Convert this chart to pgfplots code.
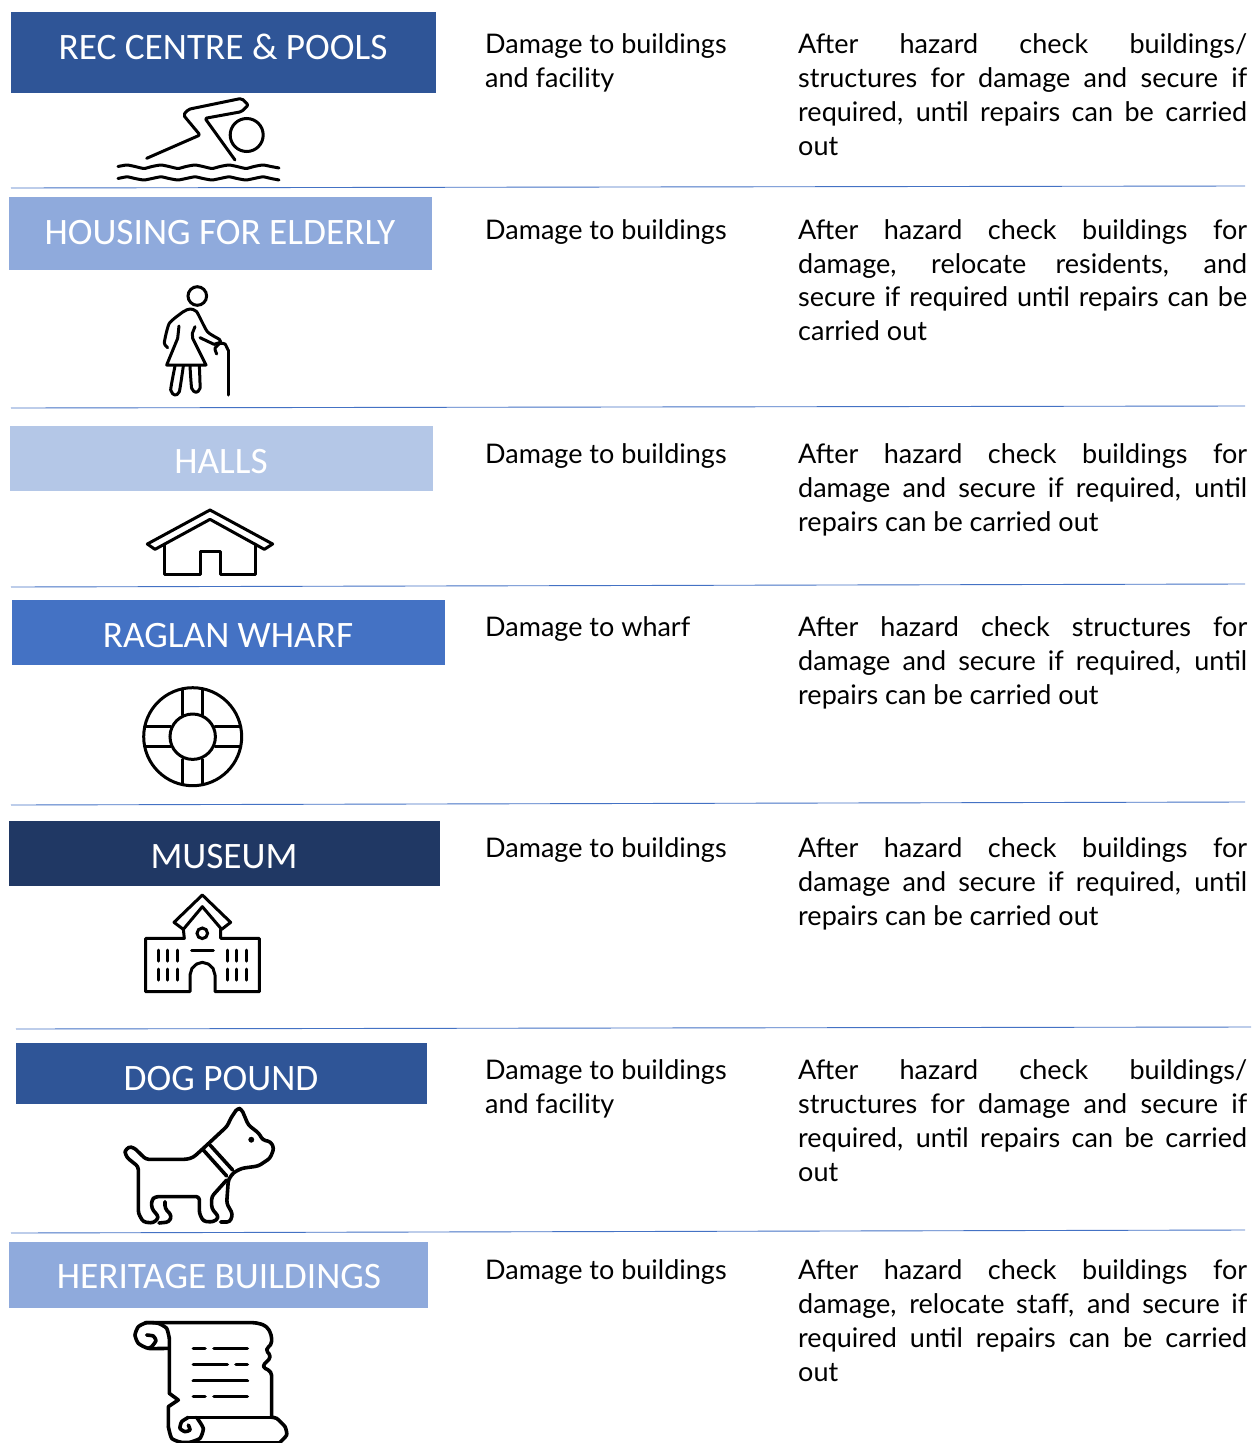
\documentclass[border=0pt]{standalone}
\usepackage{pgfplots}
\usepackage{fontspec}
\pgfplotsset{compat=1.18}
\setmainfont{Lato}
\newfontfamily\hd{Carlito}
\definecolor{sep}{HTML}{4472C4}
\definecolor{bA}{HTML}{2F5597}
\definecolor{bB}{HTML}{8FAADC}
\definecolor{bC}{HTML}{B4C7E7}
\definecolor{bD}{HTML}{4472C4}
\definecolor{bE}{HTML}{203864}
\pgfplotsset{
  zo/.style 2 args={x filter/.expression={x/3+#1},y filter/.expression={y/3+#2}},
  ic/.style={black,line width=3pt,line join=round,line cap=round,no marks},
  tk/.style={ic,line width=3.6pt},
  sm/.style={ic,smooth,tension=0.35},
  smt/.style={tk,smooth,tension=0.35},
  ring/.style={only marks,mark=o,mark size=#1,mark options={draw=black,line width=3pt}},
  sepl/.style={sep,line width=0.9pt,no marks},
}
\newcommand{\hdr}[4]{% x y size text
  \node[anchor=base,inner sep=0pt,text=white] at (axis cs:#1,#2) {\hd\fontsize{#3pt}{#3pt}\selectfont #4};}
\newcommand{\cB}[2]{\node[anchor=base west,inner sep=0pt] at (axis cs:485,#1+9) {\fontsize{27pt}{27pt}\selectfont #2};}
\newcommand{\cC}[2]{\node[anchor=base west,inner sep=0pt] at (axis cs:798,#1+9) {\fontsize{27pt}{27pt}\selectfont\makebox[449pt][s]{#2}};}
\newcommand{\cL}[2]{\node[anchor=base west,inner sep=0pt] at (axis cs:798,#1+9) {\fontsize{27pt}{27pt}\selectfont #2};}
\begin{document}
\begin{tikzpicture}
\begin{axis}[scale only axis,width=1252pt,height=1443pt,xmin=0,xmax=1252,ymin=0,ymax=1443,y dir=reverse,hide axis]
\addplot[draw=none,no marks] coordinates {(0,0) (1252,1443)};
% header boxes
\addplot[fill=bA,draw=none] coordinates {(11,12) (436,12) (436,93) (11,93)} --cycle;
\addplot[fill=bB,draw=none] coordinates {(9,197) (432,197) (432,270) (9,270)} --cycle;
\addplot[fill=bC,draw=none] coordinates {(10,426) (433,426) (433,491) (10,491)} --cycle;
\addplot[fill=bD,draw=none] coordinates {(12,600) (445,600) (445,665) (12,665)} --cycle;
\addplot[fill=bE,draw=none] coordinates {(9,821) (440,821) (440,886) (9,886)} --cycle;
\addplot[fill=bA,draw=none] coordinates {(16,1043) (427,1043) (427,1104) (16,1104)} --cycle;
\addplot[fill=bB,draw=none] coordinates {(9,1242) (428,1242) (428,1308) (9,1308)} --cycle;
% separators
\addplot[sepl] coordinates {(11,188) (1245,186)};
\addplot[sepl] coordinates {(11,408) (1245,406)};
\addplot[sepl] coordinates {(11,587) (1245,584)};
\addplot[sepl] coordinates {(11,805) (1245,802)};
\addplot[sepl] coordinates {(16,1029) (1251,1027)};
\addplot[sepl] coordinates {(11,1233) (1245,1230)};
% swimmer
\addplot[ic,rounded corners=2pt,zo={100}{90}] coordinates {(140,205) (300,135) (250,75) (265,58) (425,25) (445,45) (425,65) (315,85) (405,210)};
\addplot[ring=16.5] coordinates {(246.7,135)};
\addplot[sm] coordinates {(118,166.5) (127,165) (135,166.5) (144,168.5) (152,166.5) (161,165) (169,166.5) (178,168.5) (186,166.5) (195,165) (203,166.5) (212,168.5) (220,166.5) (229,165) (237,166.5) (246,168.5) (254,166.5) (263,165) (271,166.5) (279,168)};
\addplot[sm] coordinates {(118,178.5) (127,176.8) (135,178.5) (144,180) (152,178.5) (161,176.8) (169,178.5) (178,180) (186,178.5) (195,176.8) (203,178.5) (212,180) (220,178.5) (229,176.8) (237,178.5) (246,180) (254,178.5) (263,176.8) (271,178.5) (279,180)};
% elderly
\addplot[ring=9.3] coordinates {(197.3,296)};
\addplot[sm,zo={130}{280}] coordinates {(113,203) (103,188) (118,130) (160,95) (180,87) (200,95) (232,155) (268,178) (272,188)};
\addplot[ic,zo={130}{280}] coordinates {(210,173) (252,193) (268,188)};
\addplot[sm,zo={130}{280}] coordinates {(260,222) (255,205) (270,190) (285,192) (294,210)};
\addplot[ic,zo={130}{280}] coordinates {(294,210) (294,345)};
\addplot[ic,zo={130}{280}] coordinates {(147,138) (143,175) (110,255) (228,255) (188,175) (187,160) (195,140)};
\addplot[sm,zo={130}{280}] coordinates {(135,258) (122,330) (135,345) (148,335) (160,258)};
\addplot[sm,zo={130}{280}] coordinates {(180,258) (185,325) (198,337) (210,325) (208,258)};
% house
\addplot[ic,zo={130}{500}] coordinates {(52,132) (240,30) (428,132) (403,148) (240,58) (75,148)} --cycle;
\addplot[ic,zo={130}{500}] coordinates {(103,133) (103,222) (212,222) (212,155) (270,155) (270,222) (377,222) (377,133)};
% lifebuoy
\addplot[ring=49] coordinates {(192.7,736.7)};
\addplot[ring=22.7] coordinates {(192.7,736.7)};
\addplot[ic,zo={130}{680}] coordinates {(158,30) (158,105)};
\addplot[ic,zo={130}{680}] coordinates {(218,30) (218,105)};
\addplot[ic,zo={130}{680}] coordinates {(158,238) (158,312)};
\addplot[ic,zo={130}{680}] coordinates {(218,238) (218,312)};
\addplot[ic,zo={130}{680}] coordinates {(45,140) (122,140)};
\addplot[ic,zo={130}{680}] coordinates {(45,200) (122,200)};
\addplot[ic,zo={130}{680}] coordinates {(255,140) (332,140)};
\addplot[ic,zo={130}{680}] coordinates {(255,200) (332,200)};
% museum
\addplot[ic,zo={130}{890}] coordinates {(132,97) (217,15) (302,97) (275,118) (217,50) (160,118)} --cycle;
\addplot[ic,zo={130}{890}] coordinates {(160,118) (163,145) (47,145) (47,305) (180,305) (180,255) (186,235) (200,222) (217,217) (235,222) (249,235) (255,255) (255,305) (388,305) (388,145) (272,145) (272,118)};
\addplot[ring=5.3] coordinates {(202.3,933.3)};
\addplot[ic,zo={130}{890}] coordinates {(185,182) (250,182)};
\addplot[ic,zo={130}{890}] coordinates {(85,180) (85,213)};
\addplot[ic,zo={130}{890}] coordinates {(113,180) (113,213)};
\addplot[ic,zo={130}{890}] coordinates {(142,180) (142,213)};
\addplot[ic,zo={130}{890}] coordinates {(292,180) (292,213)};
\addplot[ic,zo={130}{890}] coordinates {(320,180) (320,213)};
\addplot[ic,zo={130}{890}] coordinates {(348,180) (348,213)};
\addplot[ic,zo={130}{890}] coordinates {(85,237) (85,270)};
\addplot[ic,zo={130}{890}] coordinates {(113,237) (113,270)};
\addplot[ic,zo={130}{890}] coordinates {(142,237) (142,270)};
\addplot[ic,zo={130}{890}] coordinates {(292,237) (292,270)};
\addplot[ic,zo={130}{890}] coordinates {(320,237) (320,270)};
\addplot[ic,zo={130}{890}] coordinates {(348,237) (348,270)};
% dog
\addplot[tk,rounded corners=3pt,zo={110}{1100}] coordinates {(45,155) (55,140) (72,143) (108,178) (230,178) (250,172) (280,145) (352,78) (362,55) (383,24) (395,28) (415,75) (447,100) (458,120) (482,125) (492,145) (480,175) (445,198) (395,205) (370,218) (355,240) (350,310) (368,342) (360,366) (332,366)};
\addplot[tk,rounded corners=3pt,zo={110}{1100}] coordinates {(45,155) (50,172) (85,200) (85,340) (100,366) (130,369) (147,352) (125,325) (125,300) (135,290) (268,290) (268,340) (280,364) (310,366) (327,352) (305,325) (305,290) (350,240)};
\addplot[tk,rounded corners=3pt,zo={110}{1100}] coordinates {(165,305) (165,325) (185,347) (177,366) (147,369)};
\addplot[tk,zo={110}{1100}] coordinates {(280,150) (350,228)};
\addplot[tk,zo={110}{1100}] coordinates {(300,135) (368,210)};
\addplot[only marks,mark=*,mark size=2.7,mark options={draw=black,fill=black}] coordinates {(251.3,1139.7)};
% scroll
\addplot[tk,rounded corners=4pt,zo={120}{1310}] coordinates {(75,38) (410,38) (440,48) (455,75) (455,105) (435,118) (455,140) (425,170) (455,185) (455,320)};
\addplot[smt,zo={120}{1310}] coordinates {(145,115) (85,115) (55,100) (45,75) (55,50) (80,38) (115,40) (140,55) (148,85)};
\addplot[tk,zo={120}{1310}] coordinates {(148,85) (148,250) (175,270) (145,290) (145,350)};
\addplot[smt,zo={120}{1310}] coordinates {(80,75) (100,78) (108,92) (95,110) (85,115)};
\addplot[smt,zo={120}{1310}] coordinates {(145,350) (155,385) (185,397) (240,397)};
\addplot[tk,zo={120}{1310}] coordinates {(240,397) (480,397)};
\addplot[smt,zo={120}{1310}] coordinates {(480,397) (500,375) (495,350) (470,325) (455,322)};
\addplot[tk,zo={120}{1310}] coordinates {(455,322) (205,322)};
\addplot[smt,zo={120}{1310}] coordinates {(230,322) (250,355) (240,385) (210,397)};
\addplot[smt,zo={120}{1310}] coordinates {(205,322) (185,335) (180,355) (195,365) (210,360) (205,345)};
\addplot[tk,zo={120}{1310}] coordinates {(220,115) (255,115)};
\addplot[tk,zo={120}{1310}] coordinates {(282,115) (382,115)};
\addplot[tk,zo={120}{1310}] coordinates {(220,163) (322,163)};
\addplot[tk,zo={120}{1310}] coordinates {(348,163) (382,163)};
\addplot[tk,zo={120}{1310}] coordinates {(220,212) (382,212)};
\addplot[tk,zo={120}{1310}] coordinates {(220,260) (255,260)};
\addplot[tk,zo={120}{1310}] coordinates {(282,260) (382,260)};
% header labels
\hdr{223}{59}{37.3}{REC CENTRE \& POOLS}
\hdr{220}{244}{37.3}{HOUSING FOR ELDERLY}
\hdr{221}{473}{37.3}{HALLS}
\hdr{228}{647}{37.3}{RAGLAN WHARF}
\hdr{224}{868}{37.3}{MUSEUM}
\hdr{221}{1090}{37.3}{DOG POUND}
\hdr{219}{1288}{37.3}{HERITAGE BUILDINGS}
% column 2
\cB{44}{Damage to buildings}
\cB{78}{and facility}
\cB{230}{Damage to buildings}
\cB{454}{Damage to buildings}
\cB{627}{Damage to wharf}
\cB{848}{Damage to buildings}
\cB{1070}{Damage to buildings}
\cB{1104}{and facility}
\cB{1270}{Damage to buildings}
% column 3
\cC{44}{After hazard check buildings/}
\cC{78}{structures for damage and secure if}
\cC{112}{required, until repairs can be carried}
\cL{146}{out}
\cC{230}{After hazard check buildings for}
\cC{264}{damage, relocate residents, and}
\cC{297}{secure if required until repairs can be}
\cL{331}{carried out}
\cC{454}{After hazard check buildings for}
\cC{488}{damage and secure if required, until}
\cL{522}{repairs can be carried out}
\cC{627}{After hazard check structures for}
\cC{661}{damage and secure if required, until}
\cL{695}{repairs can be carried out}
\cC{848}{After hazard check buildings for}
\cC{882}{damage and secure if required, until}
\cL{916}{repairs can be carried out}
\cC{1070}{After hazard check buildings/}
\cC{1104}{structures for damage and secure if}
\cC{1138}{required, until repairs can be carried}
\cL{1172}{out}
\cC{1270}{After hazard check buildings for}
\cC{1304}{damage, relocate staff, and secure if}
\cC{1338}{required until repairs can be carried}
\cL{1372}{out}
\end{axis}
\end{tikzpicture}
\end{document}
